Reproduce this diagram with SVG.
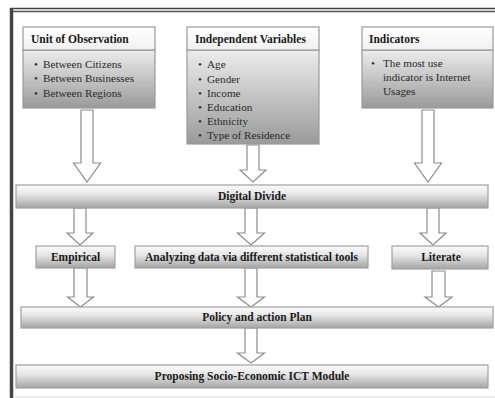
<svg xmlns="http://www.w3.org/2000/svg" width="495" height="398" viewBox="0 0 495 398" font-family="'Liberation Serif', 'Times New Roman', serif">
<defs>
<linearGradient id="body" x1="0" y1="0" x2="0" y2="1">
<stop offset="0" stop-color="#ececec"/>
<stop offset="1" stop-color="#9a9a9a"/>
</linearGradient>
<linearGradient id="head" x1="0" y1="0" x2="0" y2="1">
<stop offset="0" stop-color="#ffffff"/>
<stop offset="1" stop-color="#f0f0f0"/>
</linearGradient>
<linearGradient id="bar" x1="0" y1="0" x2="0" y2="1">
<stop offset="0" stop-color="#fbfbfb"/>
<stop offset="0.4" stop-color="#e6e6e6"/>
<stop offset="1" stop-color="#a4a4a4"/>
</linearGradient>
<style>
.box{stroke:#9a9a9a;stroke-width:1.2}
.bar{fill:url(#bar);stroke:#a0a0a0;stroke-width:1.2}
.arr{fill:#ffffff;stroke:#8c8c8c;stroke-width:1.2;stroke-linejoin:miter}
text{font-family:'Liberation Serif','DejaVu Serif',serif}
.t{font-size:11.5px;font-weight:bold;fill:#1a1a1a}
.b{font-size:11.2px;fill:#2a2a2a}
</style>
</defs>
<rect width="495" height="398" fill="#ffffff"/>
<g id="frame">
<line x1="10" y1="8.5" x2="495" y2="8.5" stroke="#444" stroke-width="1.5"/>
<line x1="10" y1="11.5" x2="495" y2="11.5" stroke="#555" stroke-width="1.5"/>
<line x1="11.5" y1="8" x2="11.5" y2="398" stroke="#444" stroke-width="3.5"/>
<line x1="14" y1="397" x2="495" y2="397" stroke="#dddddd" stroke-width="1"/>
</g>
<g id="connectors">
<path class="arr" d="M81,110 H93 V163 H100.5 L87,182 L73.5,163 H81 Z"/>
<path class="arr" d="M247,145 H259 V170 H266 L253,182 L240,170 H247 Z"/>
<path class="arr" d="M422,110 H434 V163 H441.5 L428,182 L414.5,163 H422 Z"/>
<path class="arr" d="M74,208 H86 V233 H93 L80,245 L67,233 H74 Z"/>
<path class="arr" d="M245,208 H257 V233 H264.5 L251,245 L237.5,233 H245 Z"/>
<path class="arr" d="M427,208 H439 V233 H446 L433,245 L420,233 H427 Z"/>
<path class="arr" d="M74,268 H87 V297 H93.5 L80.5,307 L67.5,297 H74 Z"/>
<path class="arr" d="M245,268 H257 V297 H264.5 L251,307 L237.5,297 H245 Z"/>
<path class="arr" d="M432,271 H445 V297 H452 L438.5,307 L425,297 H432 Z"/>
<path class="arr" d="M245,328 H257 V353 H264.5 L251,363 L237.5,353 H245 Z"/>
</g>
<g id="unit-of-observation">
<rect class="box" x="23" y="50" width="132" height="58" fill="url(#body)"/>
<rect class="box" x="23" y="27" width="132" height="23" fill="url(#head)"/>
<text class="t" x="31" y="43">Unit of Observation</text>
<text class="b" x="34" y="68">•</text><text class="b" x="43" y="68">Between Citizens</text>
<text class="b" x="34" y="82">•</text><text class="b" x="43" y="82">Between Businesses</text>
<text class="b" x="34" y="97">•</text><text class="b" x="43" y="97">Between Regions</text>
</g>
<g id="independent-variables">
<rect class="box" x="187" y="50" width="132" height="94" fill="url(#body)"/>
<rect class="box" x="187" y="27" width="132" height="23" fill="url(#head)"/>
<text class="t" x="195" y="43">Independent Variables</text>
<text class="b" x="198" y="68">•</text><text class="b" x="207" y="68">Age</text>
<text class="b" x="198" y="83">•</text><text class="b" x="207" y="83">Gender</text>
<text class="b" x="198" y="97">•</text><text class="b" x="207" y="97">Income</text>
<text class="b" x="198" y="111">•</text><text class="b" x="207" y="111">Education</text>
<text class="b" x="198" y="125">•</text><text class="b" x="207" y="125">Ethnicity</text>
<text class="b" x="198" y="139">•</text><text class="b" x="207" y="139">Type of  Residence</text>
</g>
<g id="indicators">
<rect class="box" x="362" y="50" width="131" height="58" fill="url(#body)"/>
<rect class="box" x="362" y="27" width="131" height="23" fill="url(#head)"/>
<text class="t" x="369" y="43">Indicators</text>
<text class="b" x="371" y="67">•</text><text class="b" x="383" y="67">The most use</text>
<text class="b" x="383" y="81">indicator is Internet</text>
<text class="b" x="383" y="95">Usages</text>
</g>
<g id="digital-divide">
<rect class="bar" x="16" y="185" width="472" height="23"/>
<text class="t" x="252" y="200" text-anchor="middle">Digital Divide</text>
</g>
<g id="empirical">
<rect class="bar" x="36" y="246" width="79" height="22"/>
<text class="t" x="75.5" y="261" text-anchor="middle">Empirical</text>
</g>
<g id="analyzing">
<rect class="bar" x="135" y="246" width="233" height="22"/>
<text class="t" x="251.5" y="261" text-anchor="middle">Analyzing data via different statistical tools</text>
</g>
<g id="literate">
<rect class="bar" x="392" y="246" width="96" height="23"/>
<text class="t" x="441" y="261" text-anchor="middle">Literate</text>
</g>
<g id="policy">
<rect class="bar" x="21" y="307" width="472" height="21"/>
<text class="t" x="257" y="321" text-anchor="middle">Policy and action Plan</text>
</g>
<g id="proposing">
<rect class="bar" x="16" y="365" width="472" height="23"/>
<text class="t" x="252" y="380" text-anchor="middle">Proposing Socio-Economic ICT Module</text>
</g>
</svg>
